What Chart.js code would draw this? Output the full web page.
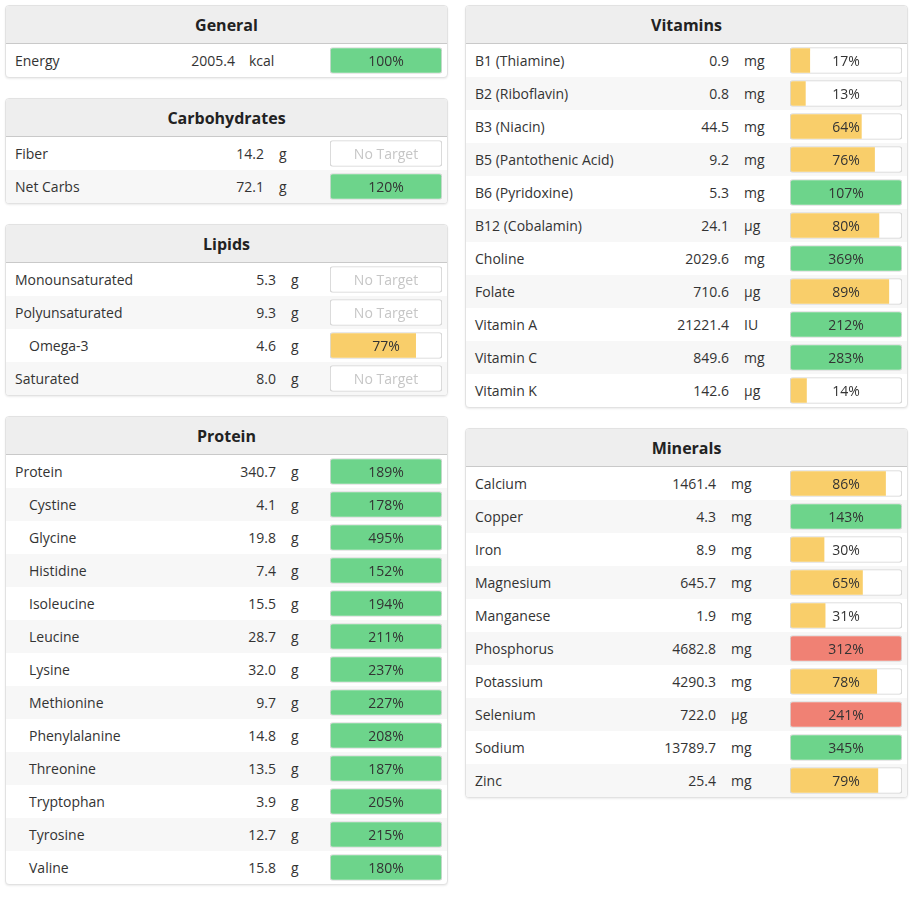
<!DOCTYPE html>
<html>
<head>
<meta charset="utf-8">
<script src="https://cdn.jsdelivr.net/npm/chart.js"></script>
<style>
  html, body { margin:0; padding:0; background:#fff; }
  body { width:920px; height:899px; position:relative; overflow:hidden;
         font-family:"Open Sans", "Noto Sans", sans-serif; font-size:14px; color:#333; }
  .panel { position:absolute; width:441px; border:1px solid #e2e2e2; border-radius:4px;
           box-shadow:0 1px 2px rgba(0,0,0,0.08); background:#fff; overflow:hidden; }
  .hdr { height:36px; padding-top:1px; line-height:37px; background:#eeeeee; border-bottom:1px solid #c9c9c9;
         text-align:center; font-weight:bold; font-size:16px; color:#222; }
  .body { position:relative; }
  .row { position:absolute; left:0; width:441px; height:33px; line-height:33px; }
  .row.alt { background:#f7f7f7; }
  .name, .val, .unit, .pct { position:absolute; top:0; white-space:nowrap; }
  .val { text-align:right; }
  .pct { text-align:center; z-index:2; }
  .pct.none { color:#c6c6c6; }
</style>
</head>
<body>
<script>
// ---------------- DATA ----------------
const generalNames = ["Energy"];
const generalValues = ["2005.4"];
const generalUnits = ["kcal"];
const generalPct = [100];

const carbNames = ["Fiber", "Net Carbs"];
const carbValues = ["14.2", "72.1"];
const carbUnits = ["g", "g"];
const carbPct = [null, 120];

const lipidNames = ["Monounsaturated", "Polyunsaturated", "Omega-3", "Saturated"];
const lipidValues = ["5.3", "9.3", "4.6", "8.0"];
const lipidUnits = ["g", "g", "g", "g"];
const lipidPct = [null, null, 77, null];
const lipidSub = [false, false, true, false];

const proteinNames = ["Protein", "Cystine", "Glycine", "Histidine", "Isoleucine", "Leucine", "Lysine",
  "Methionine", "Phenylalanine", "Threonine", "Tryptophan", "Tyrosine", "Valine"];
const proteinValues = ["340.7", "4.1", "19.8", "7.4", "15.5", "28.7", "32.0", "9.7", "14.8", "13.5", "3.9", "12.7", "15.8"];
const proteinUnits = ["g", "g", "g", "g", "g", "g", "g", "g", "g", "g", "g", "g", "g"];
const proteinPct = [189, 178, 495, 152, 194, 211, 237, 227, 208, 187, 205, 215, 180];
const proteinSub = [false, true, true, true, true, true, true, true, true, true, true, true, true];

const vitaminNames = ["B1 (Thiamine)", "B2 (Riboflavin)", "B3 (Niacin)", "B5 (Pantothenic Acid)", "B6 (Pyridoxine)",
  "B12 (Cobalamin)", "Choline", "Folate", "Vitamin A", "Vitamin C", "Vitamin K"];
const vitaminValues = ["0.9", "0.8", "44.5", "9.2", "5.3", "24.1", "2029.6", "710.6", "21221.4", "849.6", "142.6"];
const vitaminUnits = ["mg", "mg", "mg", "mg", "mg", "µg", "mg", "µg", "IU", "mg", "µg"];
const vitaminPct = [17, 13, 64, 76, 107, 80, 369, 89, 212, 283, 14];

const mineralNames = ["Calcium", "Copper", "Iron", "Magnesium", "Manganese", "Phosphorus", "Potassium", "Selenium", "Sodium", "Zinc"];
const mineralValues = ["1461.4", "4.3", "8.9", "645.7", "1.9", "4682.8", "4290.3", "722.0", "13789.7", "25.4"];
const mineralUnits = ["mg", "mg", "mg", "mg", "mg", "mg", "mg", "µg", "mg", "mg"];
const mineralPct = [86, 143, 30, 65, 31, 312, 78, 241, 345, 79];
const mineralOverLimit = [false, false, false, false, false, true, false, true, false, false];

// ---------------- LAYOUT / STYLE ----------------
const GREEN = "#6dd48b", YELLOW = "#f9ce6a", RED = "#f08174";
const ROW_H = 33;

const panels = [
  { title:"General", names:generalNames, values:generalValues, units:generalUnits, pct:generalPct,
    left:5, top:5, valRight:229, unitLeft:243 },
  { title:"Carbohydrates", names:carbNames, values:carbValues, units:carbUnits, pct:carbPct,
    left:5, top:98, valRight:258, unitLeft:273 },
  { title:"Lipids", names:lipidNames, values:lipidValues, units:lipidUnits, pct:lipidPct, sub:lipidSub,
    left:5, top:224, valRight:270, unitLeft:285 },
  { title:"Protein", names:proteinNames, values:proteinValues, units:proteinUnits, pct:proteinPct, sub:proteinSub,
    left:5, top:416, valRight:270, unitLeft:285 },
  { title:"Vitamins", names:vitaminNames, values:vitaminValues, units:vitaminUnits, pct:vitaminPct,
    left:465, top:5, valRight:263, unitLeft:278 },
  { title:"Minerals", names:mineralNames, values:mineralValues, units:mineralUnits, pct:mineralPct, over:mineralOverLimit,
    left:465, top:428, valRight:250, unitLeft:265 }
];

const BAR_LEFT = 324, BAR_W = 112;

function el(tag, cls, parent, style, text) {
  const e = document.createElement(tag);
  if (cls) e.className = cls;
  if (style) Object.assign(e.style, style);
  if (text != null) e.textContent = text;
  parent.appendChild(e);
  return e;
}

panels.forEach(p => {
  const n = p.names.length;
  const panel = el("div", "panel", document.body, { left:p.left + "px", top:p.top + "px" });
  el("div", "hdr", panel, null, p.title);
  const body = el("div", "body", panel, { height:(n * ROW_H) + "px" });
  for (let i = 0; i < n; i++) {
    const row = el("div", "row" + (i % 2 ? " alt" : ""), body, { top:(i * ROW_H) + "px" });
    const indent = (p.sub && p.sub[i]) ? 23 : 9;
    el("div", "name", row, { left:indent + "px" }, p.names[i]);
    el("div", "val", row, { left:"0px", width:p.valRight + "px" }, p.values[i]);
    el("div", "unit", row, { left:p.unitLeft + "px" }, p.units[i]);
    const has = p.pct[i] != null;
    el("div", "pct" + (has ? "" : " none"), row, { left:BAR_LEFT + "px", width:BAR_W + "px" },
       has ? p.pct[i] + "%" : "No Target");
  }
  const wrap = el("div", null, body, { position:"absolute", left:BAR_LEFT + "px", top:"0px",
    width:BAR_W + "px", height:(n * ROW_H) + "px", zIndex:1 });
  const canvas = el("canvas", null, wrap);

  const colors = p.pct.map((v, i) => v == null ? "rgba(0,0,0,0)" :
    (p.over && p.over[i]) ? RED : (v >= 100 ? GREEN : YELLOW));

  new Chart(canvas, {
    type:"bar",
    data:{
      labels:p.names,
      datasets:[
        { label:"fill", data:p.pct.map(v => v == null ? null : [0, Math.min(v, 100)]),
          backgroundColor:colors, borderWidth:0, borderSkipped:false,
          borderRadius:ctx => {
            const v = p.pct[ctx.dataIndex];
            return (v != null && v >= 100) ? 2 : { topLeft:2, bottomLeft:2, topRight:0, bottomRight:0 };
          },
          barThickness:24, grouped:false, order:1 },
        { label:"box", data:p.pct.map(() => [-1, 101]),
          backgroundColor:"#ffffff", borderColor:"#d6d6d6", borderWidth:1.2,
          borderSkipped:false, borderRadius:3, barThickness:26, grouped:false, order:2 }
      ]
    },
    options:{
      indexAxis:"y",
      responsive:true, maintainAspectRatio:false, animation:false,
      layout:{ padding:0 },
      plugins:{ legend:{ display:false }, tooltip:{ enabled:false } },
      scales:{
        x:{ display:false, min:-1, max:101 },
        y:{ display:false, offset:true }
      }
    }
  });
});
</script>
</body>
</html>
